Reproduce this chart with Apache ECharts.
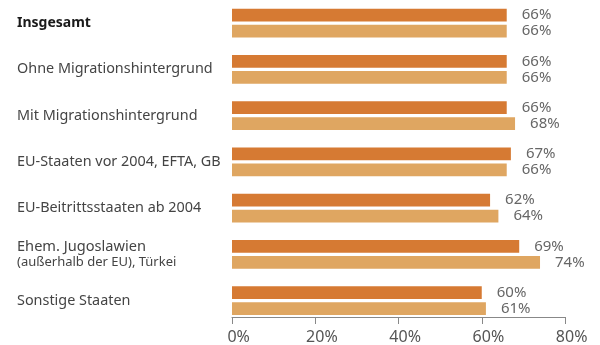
<!DOCTYPE html>
<html><head><meta charset="utf-8">
<script src="https://cdn.jsdelivr.net/npm/echarts@6/dist/echarts.min.js"></script>
<style>html,body{margin:0;padding:0;background:#fff}#c{width:600px;height:345px}</style>
</head><body><div id="c"></div>
<script>
const categories = [
  "Insgesamt",
  "Ohne Migrationshintergrund",
  "Mit Migrationshintergrund",
  "EU-Staaten vor 2004, EFTA, GB",
  "EU-Beitrittsstaaten ab 2004",
  "Ehem. Jugoslawien\n(außerhalb der EU), Türkei",
  "Sonstige Staaten"
];
const seriesA = [66, 66, 66, 67, 62, 69, 60];
const seriesB = [66, 66, 68, 66, 64, 74, 61];
const xTicks = [0, 20, 40, 60, 80];

const FONT = "'Noto Sans', sans-serif";
const chart = echarts.init(document.getElementById('c'), null, {renderer: 'canvas'});
chart.setOption({
  animation: false,
  grid: {left: 232, right: 35, top: -4.2, bottom: 20.6},
  xAxis: {
    type: 'value', min: xTicks[0], max: xTicks[xTicks.length - 1], interval: 20,
    offset: -6.7,
    axisLine: {show: true, lineStyle: {color: '#888', width: 1}},
    axisTick: {show: true, length: 7, lineStyle: {color: '#888'}},
    splitLine: {show: false},
    axisLabel: {
      formatter: function (v) { return '{h|%}' + v + '%'; },
      color: '#555', fontSize: 16, fontFamily: FONT, margin: 12,
      rich: {h: {color: 'rgba(0,0,0,0)', fontSize: 16, fontFamily: FONT}}
    }
  },
  yAxis: {
    type: 'category', data: categories, inverse: true,
    axisLine: {show: false}, axisTick: {show: false},
    axisLabel: {
      align: 'left', margin: 215, color: '#444', fontSize: 14.4, fontFamily: FONT,
      formatter: function (v) {
        if (v === 'Insgesamt') return '{b|' + v + '}';
        if (v.indexOf('\n') >= 0) {
          const parts = v.split('\n');
          return '{n|' + parts[0] + '}\n{s|' + parts[1] + '}';
        }
        return v;
      },
      rich: {
        b: {fontWeight: 'bold', color: '#1a1a1a', fontSize: 14, fontFamily: FONT},
        n: {color: '#444', fontSize: 14.6, fontFamily: FONT, lineHeight: 15},
        s: {color: '#444', fontSize: 13, fontFamily: FONT, lineHeight: 15}
      }
    }
  },
  series: [
    {type: 'bar', data: seriesA, barWidth: 12.7, barGap: '26%',
     itemStyle: {color: '#D67A33'},
     label: {show: true, position: 'right', distance: 15, formatter: '{c}%', color: '#666', fontSize: 15, fontFamily: FONT}},
    {type: 'bar', data: seriesB, barWidth: 12.7, barGap: '26%',
     itemStyle: {color: '#DFA661'},
     label: {show: true, position: 'right', distance: 15, formatter: '{c}%', color: '#666', fontSize: 15, fontFamily: FONT}}
  ]
});
</script></body></html>
